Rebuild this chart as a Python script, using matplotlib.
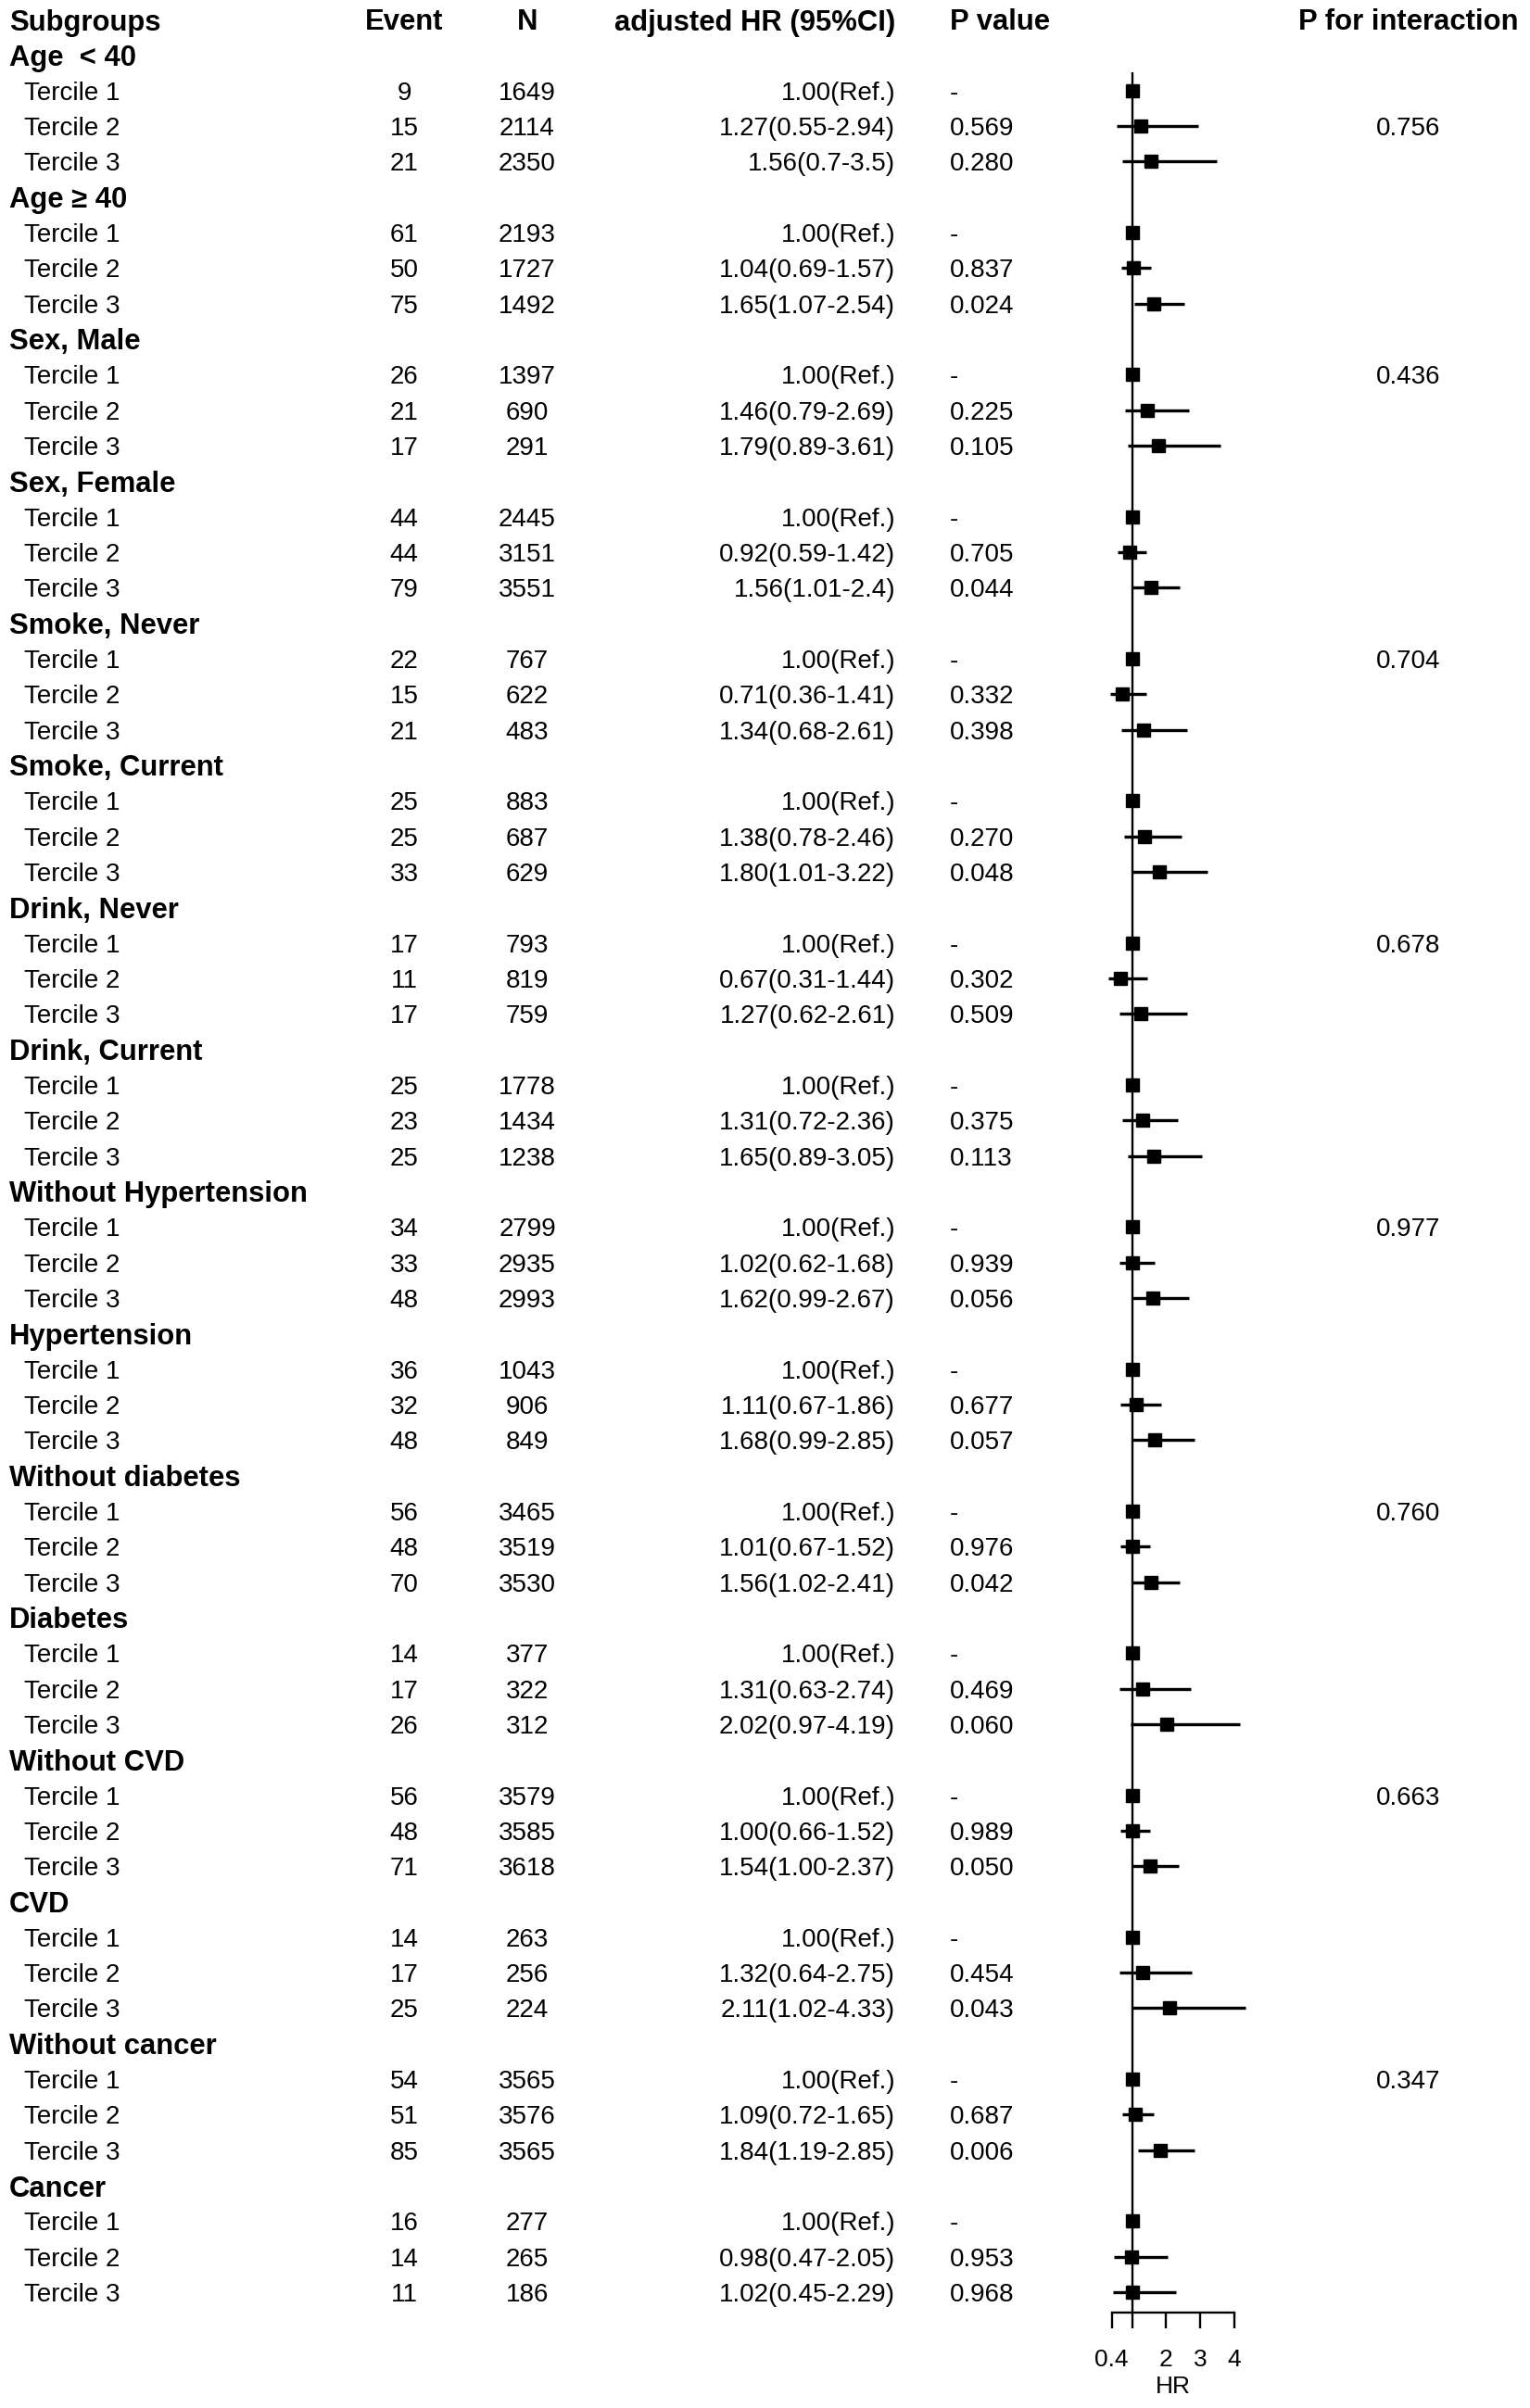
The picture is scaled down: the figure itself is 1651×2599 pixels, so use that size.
import matplotlib
matplotlib.use("Agg")
import matplotlib.pyplot as plt
import matplotlib.transforms as mtransforms
import numpy as np

plt.rcParams['font.family'] = ['Liberation Sans', 'DejaVu Sans']

# ---------------- data ----------------
groups = ["Age  < 40", "Age \u2265 40", "Sex, Male", "Sex, Female", "Smoke, Never",
          "Smoke, Current", "Drink, Never", "Drink, Current", "Without Hypertension",
          "Hypertension", "Without diabetes", "Diabetes", "Without CVD", "CVD",
          "Without cancer", "Cancer"]
terciles = ["Tercile 1", "Tercile 2", "Tercile 3"]

events = [[9, 15, 21], [61, 50, 75], [26, 21, 17], [44, 44, 79], [22, 15, 21],
          [25, 25, 33], [17, 11, 17], [25, 23, 25], [34, 33, 48], [36, 32, 48],
          [56, 48, 70], [14, 17, 26], [56, 48, 71], [14, 17, 25], [54, 51, 85],
          [16, 14, 11]]
n_total = [[1649, 2114, 2350], [2193, 1727, 1492], [1397, 690, 291], [2445, 3151, 3551],
           [767, 622, 483], [883, 687, 629], [793, 819, 759], [1778, 1434, 1238],
           [2799, 2935, 2993], [1043, 906, 849], [3465, 3519, 3530], [377, 322, 312],
           [3579, 3585, 3618], [263, 256, 224], [3565, 3576, 3565], [277, 265, 186]]

hr = [[1.00, 1.27, 1.56], [1.00, 1.04, 1.65], [1.00, 1.46, 1.79], [1.00, 0.92, 1.56],
      [1.00, 0.71, 1.34], [1.00, 1.38, 1.80], [1.00, 0.67, 1.27], [1.00, 1.31, 1.65],
      [1.00, 1.02, 1.62], [1.00, 1.11, 1.68], [1.00, 1.01, 1.56], [1.00, 1.31, 2.02],
      [1.00, 1.00, 1.54], [1.00, 1.32, 2.11], [1.00, 1.09, 1.84], [1.00, 0.98, 1.02]]
lo = [[1.00, 0.55, 0.70], [1.00, 0.69, 1.07], [1.00, 0.79, 0.89], [1.00, 0.59, 1.01],
      [1.00, 0.36, 0.68], [1.00, 0.78, 1.01], [1.00, 0.31, 0.62], [1.00, 0.72, 0.89],
      [1.00, 0.62, 0.99], [1.00, 0.67, 0.99], [1.00, 0.67, 1.02], [1.00, 0.63, 0.97],
      [1.00, 0.66, 1.00], [1.00, 0.64, 1.02], [1.00, 0.72, 1.19], [1.00, 0.47, 0.45]]
hi = [[1.00, 2.94, 3.50], [1.00, 1.57, 2.54], [1.00, 2.69, 3.61], [1.00, 1.42, 2.40],
      [1.00, 1.41, 2.61], [1.00, 2.46, 3.22], [1.00, 1.44, 2.61], [1.00, 2.36, 3.05],
      [1.00, 1.68, 2.67], [1.00, 1.86, 2.85], [1.00, 1.52, 2.41], [1.00, 2.74, 4.19],
      [1.00, 1.52, 2.37], [1.00, 2.75, 4.33], [1.00, 1.65, 2.85], [1.00, 2.05, 2.29]]

hr_text = [["1.00(Ref.)", "1.27(0.55-2.94)", "1.56(0.7-3.5)"],
           ["1.00(Ref.)", "1.04(0.69-1.57)", "1.65(1.07-2.54)"],
           ["1.00(Ref.)", "1.46(0.79-2.69)", "1.79(0.89-3.61)"],
           ["1.00(Ref.)", "0.92(0.59-1.42)", "1.56(1.01-2.4)"],
           ["1.00(Ref.)", "0.71(0.36-1.41)", "1.34(0.68-2.61)"],
           ["1.00(Ref.)", "1.38(0.78-2.46)", "1.80(1.01-3.22)"],
           ["1.00(Ref.)", "0.67(0.31-1.44)", "1.27(0.62-2.61)"],
           ["1.00(Ref.)", "1.31(0.72-2.36)", "1.65(0.89-3.05)"],
           ["1.00(Ref.)", "1.02(0.62-1.68)", "1.62(0.99-2.67)"],
           ["1.00(Ref.)", "1.11(0.67-1.86)", "1.68(0.99-2.85)"],
           ["1.00(Ref.)", "1.01(0.67-1.52)", "1.56(1.02-2.41)"],
           ["1.00(Ref.)", "1.31(0.63-2.74)", "2.02(0.97-4.19)"],
           ["1.00(Ref.)", "1.00(0.66-1.52)", "1.54(1.00-2.37)"],
           ["1.00(Ref.)", "1.32(0.64-2.75)", "2.11(1.02-4.33)"],
           ["1.00(Ref.)", "1.09(0.72-1.65)", "1.84(1.19-2.85)"],
           ["1.00(Ref.)", "0.98(0.47-2.05)", "1.02(0.45-2.29)"]]
p_values = [["-", "0.569", "0.280"], ["-", "0.837", "0.024"], ["-", "0.225", "0.105"],
            ["-", "0.705", "0.044"], ["-", "0.332", "0.398"], ["-", "0.270", "0.048"],
            ["-", "0.302", "0.509"], ["-", "0.375", "0.113"], ["-", "0.939", "0.056"],
            ["-", "0.677", "0.057"], ["-", "0.976", "0.042"], ["-", "0.469", "0.060"],
            ["-", "0.989", "0.050"], ["-", "0.454", "0.043"], ["-", "0.687", "0.006"],
            ["-", "0.953", "0.968"]]

p_inter_group = [0, 2, 4, 6, 8, 10, 12, 14]
p_inter_tercile = [1, 0, 0, 0, 0, 0, 0, 0]
p_inter = ["0.756", "0.436", "0.704", "0.678", "0.977", "0.760", "0.663", "0.347"]

headers = ["Subgroups", "Event", "N", "adjusted HR (95%CI)", "P value", "P for interaction"]
x_ticks = [0.4, 1, 2, 3, 4]
x_ticklabels = ["0.4", "", "2", "3", "4"]

# ---------------- layout ----------------
W, H = 1651, 2599
fig = plt.figure(figsize=(W / 100, H / 100), dpi=100)

row0_px = 21.0
row_step = 38.33
spine_px = 2496.0
top_row = 1.5
bottom_row = (spine_px - row0_px) / row_step

ax_left_px, ax_right_px = 1199.5, 1331.5
ax = fig.add_axes([ax_left_px / W, 1 - spine_px / H,
                   (ax_right_px - ax_left_px) / W,
                   (spine_px - (row0_px + top_row * row_step)) / H])
ax.set_xlim(0.4, 4)
ax.set_ylim(bottom_row, top_row)

trans = mtransforms.blended_transform_factory(fig.transFigure, ax.transData)

x_sub = 10 / W
x_terc = 26 / W
x_event = 436 / W
x_n = 569 / W
x_hr = 966 / W
x_p = 1025 / W
x_pi = 1520 / W

fs_bold = 22.3
fs = 20

def put(x, y, s, ha, bold=False, size=None):
    fig.text(x, y, s, transform=trans, ha=ha, va='center_baseline',
             fontsize=size if size else (fs_bold if bold else fs),
             fontweight='bold' if bold else 'normal', color='black')

# header
put(x_sub, 0, headers[0], 'left', True)
put(x_event, 0, headers[1], 'center', True)
put(x_n, 0, headers[2], 'center', True)
put(x_hr, 0, headers[3], 'right', True)
put(x_p, 0, headers[4], 'left', True)
put(x_pi, 0, headers[5], 'center', True)

for g, name in enumerate(groups):
    grow = 1 + 4 * g
    put(x_sub, grow, name, 'left', True)
    for t in range(3):
        r = grow + 1 + t
        put(x_terc, r, terciles[t], 'left')
        put(x_event, r, str(events[g][t]), 'center')
        put(x_n, r, str(n_total[g][t]), 'center')
        put(x_hr, r, hr_text[g][t], 'right')
        put(x_p, r, p_values[g][t], 'left')
        if hi[g][t] > lo[g][t]:
            ax.plot([lo[g][t], hi[g][t]], [r, r], color='black', lw=2.4,
                    solid_capstyle='butt', clip_on=False, zorder=3)
        ax.plot([hr[g][t]], [r], marker='s', color='black', markersize=9.5,
                linestyle='none', clip_on=False, zorder=4)

for g, t, s in zip(p_inter_group, p_inter_tercile, p_inter):
    put(x_pi, 1 + 4 * g + 1 + t, s, 'center')

ax.axvline(1, color='black', lw=1.7, zorder=2)

for side in ['top', 'right', 'left']:
    ax.spines[side].set_visible(False)
ax.spines['bottom'].set_linewidth(1.7)
ax.set_yticks([])
ax.set_xticks(x_ticks)
ax.set_xticklabels(x_ticklabels)
ax.tick_params(axis='x', direction='out', length=12, width=1.7, pad=16, labelsize=19)
ax.set_xlabel("HR", fontsize=19, labelpad=4)
ax.patch.set_alpha(0)

fig.savefig("out.png", dpi=100, facecolor='white')
